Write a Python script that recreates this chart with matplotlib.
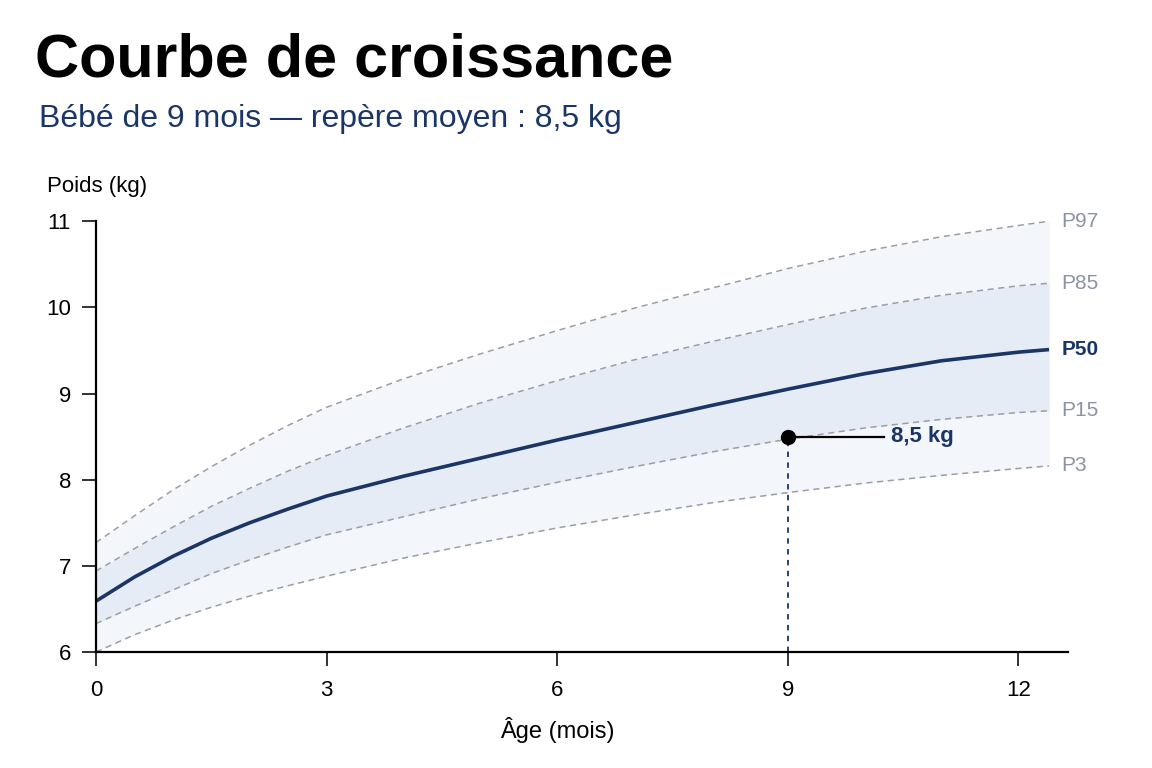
import matplotlib.pyplot as plt
import numpy as np

# values (age in months, weight in kg)
months = [0, 0.5, 1, 1.5, 2, 2.5, 3, 4, 5, 6, 7, 8, 9, 10, 11, 12, 12.4]
p97 = [7.27, 7.58, 7.88, 8.15, 8.40, 8.63, 8.84, 9.17, 9.46, 9.73, 9.99, 10.22, 10.45, 10.65, 10.82, 10.95, 11.0]
p85 = [6.94, 7.20, 7.45, 7.69, 7.90, 8.10, 8.28, 8.60, 8.89, 9.15, 9.39, 9.60, 9.80, 9.99, 10.14, 10.25, 10.28]
p50 = [6.59, 6.87, 7.11, 7.32, 7.50, 7.66, 7.81, 8.04, 8.25, 8.46, 8.66, 8.86, 9.05, 9.23, 9.38, 9.48, 9.51]
p15 = [6.33, 6.53, 6.72, 6.91, 7.07, 7.22, 7.36, 7.57, 7.78, 7.97, 8.15, 8.32, 8.47, 8.60, 8.70, 8.78, 8.80]
p3 = [6.00, 6.20, 6.37, 6.52, 6.65, 6.77, 6.88, 7.09, 7.27, 7.44, 7.59, 7.73, 7.85, 7.96, 8.05, 8.13, 8.16]

baby_age = 9
baby_weight = 8.5
x_ticks = [0, 3, 6, 9, 12]
y_ticks = [6, 7, 8, 9, 10, 11]

navy = '#1b3566'
grey = '#9a9ea6'
label_grey = '#8a93a3'

plt.rcParams['font.family'] = ['Liberation Sans', 'DejaVu Sans']

fig = plt.figure(figsize=(11.52, 7.68), dpi=100)
ax = fig.add_axes([0.0833, 0.151, 0.844, 0.561])

ax.fill_between(months, p3, p97, color='#f3f6fb', lw=0)
ax.fill_between(months, p15, p85, color='#e6ecf6', lw=0)

for serie in (p97, p85, p15, p3):
    ax.plot(months, serie, color=grey, lw=1.1, dashes=(4, 3))
ax.plot(months, p50, color=navy, lw=2.6, solid_capstyle='butt', solid_joinstyle='round')

# labels at the end of each curve
for name, serie in [('P97', p97), ('P85', p85), ('P50', p50), ('P15', p15), ('P3', p3)]:
    bold = name == 'P50'
    ax.annotate(name, (months[-1], serie[-1]), xytext=(9, 0), textcoords='offset points',
                va='center', ha='left', fontsize=15,
                color=navy if bold else label_grey,
                fontweight='bold' if bold else 'normal', annotation_clip=False)

# baby marker
ax.plot([baby_age, baby_age], [6, baby_weight], color=navy, lw=1.3, dashes=(3, 3))
ax.plot([baby_age, 10.25], [baby_weight, baby_weight], color='black', lw=1.6)
ax.plot(baby_age, baby_weight, 'o', color='black', ms=10, zorder=5)
ax.text(10.35, baby_weight, '8,5 kg', va='center', ha='left', fontsize=16,
        fontweight='bold', color=navy)

ax.set_xlim(0, 12.65)
ax.set_ylim(6, 11)
ax.set_xticks(x_ticks)
ax.set_yticks(y_ticks)
ax.tick_params(axis='both', length=10, width=1.3, labelsize=16, color='#222222')
ax.tick_params(axis='x', pad=10)
ax.tick_params(axis='y', pad=8)
ax.spines['top'].set_visible(False)
ax.spines['right'].set_visible(False)
ax.spines['left'].set_linewidth(1.6)
ax.spines['bottom'].set_linewidth(1.6)
ax.set_xlabel('Âge (mois)', fontsize=17, labelpad=12)
ax.xaxis.label.set_x(6 / 12.65)

fig.text(0.041, 0.757, 'Poids (kg)', fontsize=16, ha='left', va='center')
fig.text(0.030, 0.92, 'Courbe de croissance', fontsize=44, fontweight='bold',
         ha='left', va='center')
fig.text(0.034, 0.845, 'Bébé de 9 mois — repère moyen : 8,5 kg', fontsize=23,
         color=navy, ha='left', va='center')

fig.savefig('out.png', dpi=100, facecolor='white')
